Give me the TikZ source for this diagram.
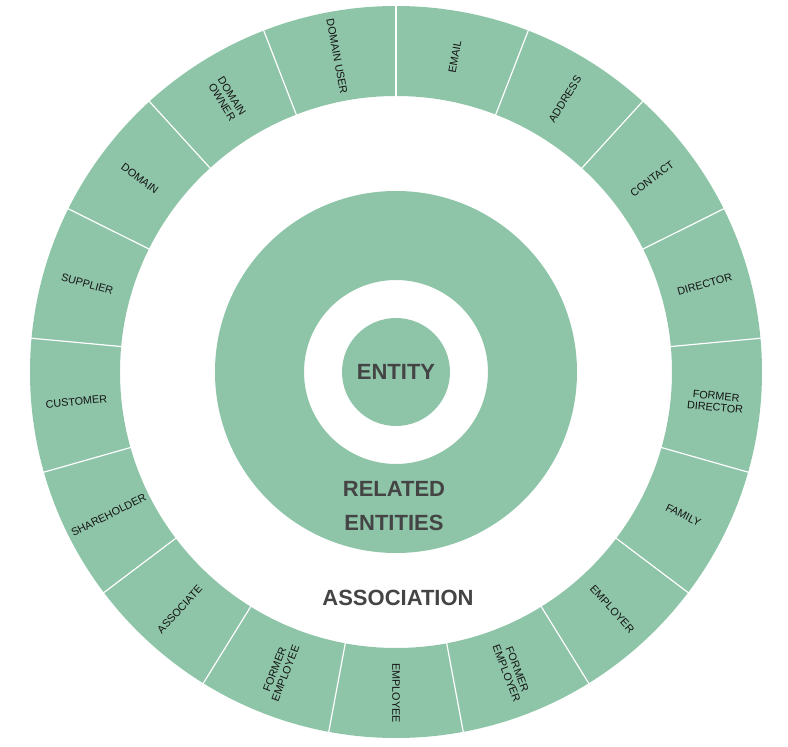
\documentclass[tikz,border=0pt]{standalone}
\usepackage{fontspec}
\setmainfont{Liberation Sans}
\usepackage{tikz}
\usetikzlibrary{positioning}
\definecolor{sage}{HTML}{8EC4A8}
\definecolor{ink}{HTML}{444444}

\begin{document}
\begin{tikzpicture}[x=1pt,y=1pt]
  \tikzstyle{ring label}=[font=\fontsize{10.8}{11.5}\selectfont, align=center, text=black!92, inner sep=0pt]
  \tikzstyle{core label}=[font=\fontsize{22}{34}\selectfont\bfseries, text=ink, align=center, inner sep=0pt]
  \tikzstyle{cut}=[white, line width=1.2pt]

  \useasboundingbox (-396,-375) rectangle (392,372);

  % outer ring and its cuts
  \fill[sage, even odd rule] (0,0) circle (366) (0,0) circle (276);
  \foreach \k in {0,...,16}
    \draw[cut] ({90-\k*360/17}:275) -- ({90-\k*360/17}:367);

  % inner discs
  \fill[sage, even odd rule] (0,0) circle (181) (0,0) circle (92);
  \fill[sage] (0,0) circle (54);

  \node[core label] (entity)  at (0,0)      {ENTITY};
  \node[core label] (related) at (-2,-134)  {RELATED\\ENTITIES};
  \node[core label] (assoc)   at (2,-225.5) {ASSOCIATION};

  \foreach \name/\txt [count=\k from 0] in {email/EMAIL, address/ADDRESS, contact/CONTACT,
      director/DIRECTOR, fdirector/{FORMER\\DIRECTOR}, family/FAMILY, employer/EMPLOYER,
      femployer/{FORMER\\EMPLOYER}, employee/EMPLOYEE, femployee/{FORMER\\EMPLOYEE},
      associate/ASSOCIATE, shareholder/SHAREHOLDER, customer/CUSTOMER, supplier/SUPPLIER,
      domain/DOMAIN, downer/{DOMAIN\\OWNER}, duser/{DOMAIN USER}}
  {
    \pgfmathsetmacro\ang{90-(\k+0.5)*360/17}
    \pgfmathsetmacro\rot{ifthenelse(\ang<-91,\ang+180,\ang)}
    \node[ring label, rotate=\rot] (\name) at (\ang:321) {\txt};
  }
\end{tikzpicture}
\end{document}
